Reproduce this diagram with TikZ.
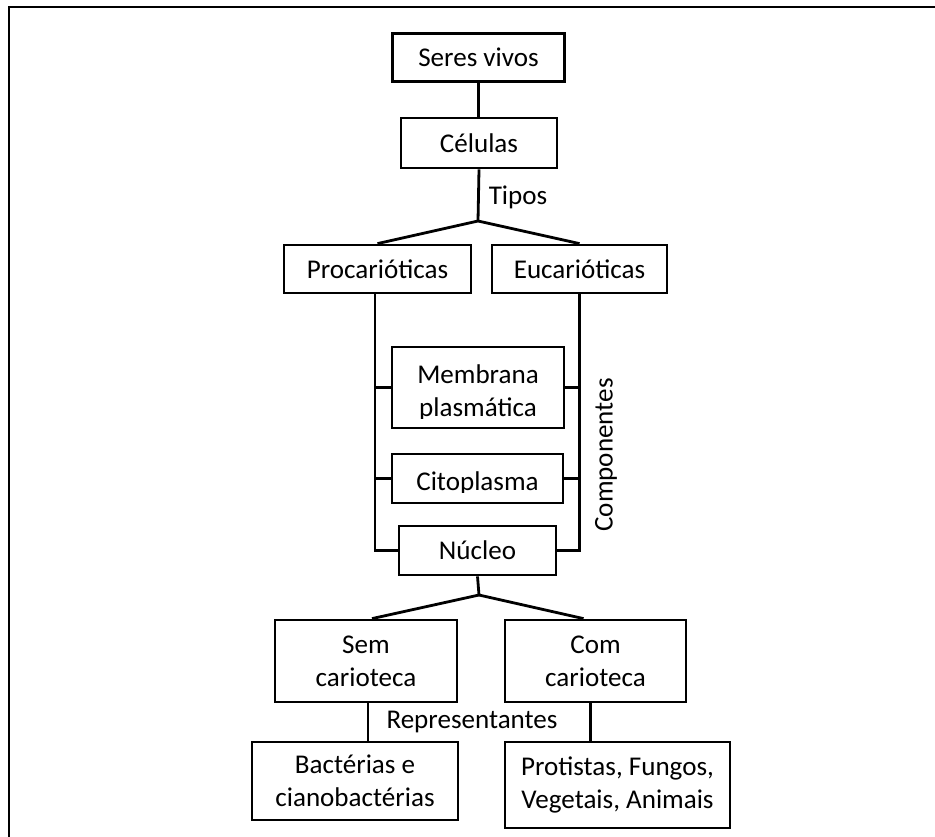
\documentclass[tikz,border=0pt]{standalone}
\usepackage{fontspec}
\setmainfont{Carlito}
\usetikzlibrary{calc}
\begin{document}
\begin{tikzpicture}[x=0.75pt,y=-0.75pt,
  every node/.style={font=\fontsize{20.3}{24.5}\selectfont},
  boxnode/.style={draw,line width=2.1pt,inner sep=0pt,align=center},
  conn/.style={line width=2.1pt},
  lbl/.style={inner sep=0pt}]
\useasboundingbox (0,0) rectangle (935,836);
\draw[line width=1.6pt] (9,840) -- (9,7) -- (940,7);

\node[boxnode,minimum width=129pt,minimum height=36pt] (sv) at (478.5,57.5) {Seres vivos};
\node[boxnode,minimum width=117pt,minimum height=37.5pt] (cel) at (479,143) {Células};
\node[boxnode,minimum width=140.25pt,minimum height=36pt] (pro) at (377.5,269) {Procarióticas};
\node[boxnode,minimum width=131.25pt,minimum height=36pt] (euc) at (579.5,269) {Eucarióticas};
\node[boxnode,minimum width=129pt,minimum height=60.75pt] (mem) at (478,387.5) {};
\node[boxnode,minimum width=128.25pt,minimum height=36.75pt] (cit) at (477.5,478.5) {};
\node[boxnode,minimum width=117.75pt,minimum height=36.75pt] (nuc) at (477.5,550.5) {Núcleo};
\node[boxnode,minimum width=136.5pt,minimum height=61.5pt] (sem) at (366,661) {Sem\\carioteca};
\node[boxnode,minimum width=135.75pt,minimum height=61.5pt] (com) at (595.5,661) {Com\\carioteca};
\node[boxnode,minimum width=154.5pt,minimum height=58.5pt] (bac) at (355,781) {Bactérias e\\cianobactérias};
\node[boxnode,minimum width=168.75pt,minimum height=64.5pt] (pfv) at (617.5,785) {Protistas, Fungos,\\Vegetais, Animais};

% clipped texts inside Membrana / Citoplasma
\coordinate (memclip) at (563,418);
\coordinate (citclip) at (562,492);
\begin{scope}
\clip (mem.north west) rectangle (memclip);
\node[lbl,anchor=base] (memt1) at (478,383) {Membrana};
\node[lbl,anchor=base] (memt2) at (478,416) {plasmática};
\end{scope}
\begin{scope}
\clip (cit.north west) rectangle (citclip);
\node[lbl,anchor=base] (citt) at (477.5,490) {Citoplasma};
\end{scope}

% labels
\node[lbl] (tipos) at (518,197) {Tipos};
\node[lbl,rotate=90] (compo) at (606,455) {Componentes};
\node[lbl] (repr) at (472,722) {Representantes};

% connectors
\coordinate (j1) at (478,221);
\coordinate (j2) at (479,595);
\draw[conn] (sv.south) -- (sv.south |- cel.north);
\draw[conn] (cel.south) -- (j1);
\draw[conn] (j1) -- (pro.north);
\draw[conn] (j1) -- (euc.north);
\coordinate (pl) at ($(pro.south)+(-2.5,0)$);
\draw[conn] (pl) |- (nuc.west);
\draw[conn] (mem.west) -- (pl |- mem.west);
\draw[conn] (cit.west) -- (pl |- cit.west);
\draw[conn] (euc.south) |- (nuc.east);
\draw[conn] (mem.east) -- (euc.south |- mem.east);
\draw[conn] (cit.east) -- (euc.south |- cit.east);
\draw[conn] (nuc.south) -- (j2);
\draw[conn] (j2) -- ($(sem.north)+(6,0)$);
\draw[conn] (j2) -- ($(com.north)+(-12,0)$);
\coordinate (sl) at ($(sem.south)+(2,0)$);
\draw[conn] (sl) -- (sl |- bac.north);
\coordinate (cl) at ($(com.south)+(-5,0)$);
\draw[conn] (cl) -- (cl |- pfv.north);
\end{tikzpicture}
\end{document}
